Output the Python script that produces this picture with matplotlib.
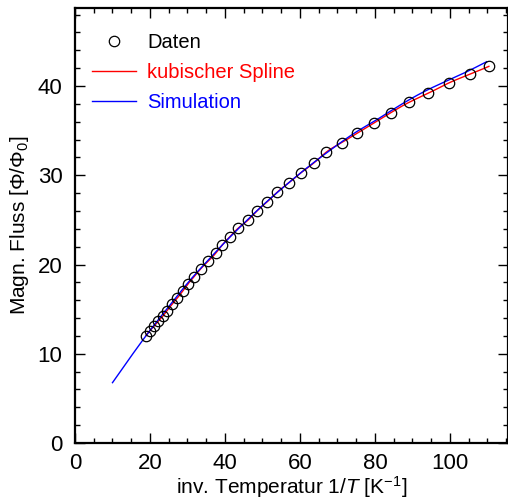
import numpy as np
import matplotlib
matplotlib.use("Agg")
import matplotlib.pyplot as plt
from matplotlib.ticker import MultipleLocator

plt.rcParams['font.family'] = ['Liberation Sans', 'DejaVu Sans']
plt.rcParams['mathtext.fontset'] = 'custom'
plt.rcParams['mathtext.rm'] = 'Liberation Sans'
plt.rcParams['mathtext.it'] = 'Liberation Sans:italic'

# measured flux vs inverse temperature
inv_T = [18.9, 20.0, 21.1, 22.2, 23.4, 24.5, 25.9, 27.3, 28.7, 30.1,
         31.8, 33.6, 35.6, 37.6, 39.3, 41.3, 43.5, 46.2, 48.6, 51.3,
         53.9, 57.1, 60.3, 63.8, 66.9, 71.1, 75.3, 79.7, 84.2, 89.1,
         94.2, 99.7, 105.3, 110.4]
flux = [12.02, 12.6, 13.1, 13.65, 14.2, 14.8, 15.55, 16.25, 17.0, 17.8,
        18.65, 19.55, 20.4, 21.3, 22.2, 23.1, 24.06, 24.99, 26.03, 27.04,
        28.09, 29.17, 30.29, 31.41, 32.55, 33.65, 34.73, 35.85, 37.0, 38.17,
        39.18, 40.34, 41.31, 42.2]

# simulated curve
sim_inv_T = [10.0, 14.0, 18.2, 22.0, 26.0, 30.0, 35.0, 40.0, 45.0, 50.0,
             55.0, 60.0, 65.0, 70.0, 75.0, 80.0, 84.2, 89.1, 94.2, 99.7,
             105.0, 109.8]
sim_flux = [6.76, 9.15, 11.6, 13.7, 15.8, 17.9, 20.25, 22.5, 24.6, 26.6,
            28.45, 30.2, 31.85, 33.4, 34.85, 36.1, 37.2, 38.45, 39.6, 40.67,
            41.7, 42.72]


def natural_cubic_spline(x, y, xs):
    x = np.asarray(x, float)
    y = np.asarray(y, float)
    n = len(x)
    h = np.diff(x)
    A = np.zeros((n, n))
    b = np.zeros(n)
    A[0, 0] = A[-1, -1] = 1.0
    for i in range(1, n - 1):
        A[i, i - 1] = h[i - 1]
        A[i, i] = 2 * (h[i - 1] + h[i])
        A[i, i + 1] = h[i]
        b[i] = 3 * ((y[i + 1] - y[i]) / h[i] - (y[i] - y[i - 1]) / h[i - 1])
    c = np.linalg.solve(A, b)
    bb = (y[1:] - y[:-1]) / h - h * (2 * c[:-1] + c[1:]) / 3
    d = (c[1:] - c[:-1]) / (3 * h)
    idx = np.clip(np.searchsorted(x, xs) - 1, 0, n - 2)
    dx = xs - x[idx]
    return y[idx] + bb[idx] * dx + c[idx] * dx**2 + d[idx] * dx**3


xs = np.linspace(inv_T[0], inv_T[-1], 400)
spline = natural_cubic_spline(inv_T, flux, xs)
sim_x = np.linspace(sim_inv_T[0], sim_inv_T[-1], 400)
sim_y = natural_cubic_spline(sim_inv_T, sim_flux, sim_x)

fig = plt.figure(figsize=(5.08, 5.03), dpi=100)
ax = fig.add_axes([75 / 508, 60 / 503, 433 / 508, 435 / 503])

ax.plot(inv_T, flux, 'o', mfc='none', mec='black', ms=7.5, mew=0.9,
        label='Daten', zorder=3)
ax.plot(xs, spline, color='red', lw=1.0, label='kubischer Spline')
ax.plot(sim_x, sim_y, color='blue', lw=1.0, label='Simulation')

ax.set_xlim(0, 115.5)
ax.set_ylim(0, 48.74)
ax.xaxis.set_major_locator(MultipleLocator(20))
ax.xaxis.set_minor_locator(MultipleLocator(5))
ax.yaxis.set_major_locator(MultipleLocator(10))
ax.yaxis.set_minor_locator(MultipleLocator(2))
ax.tick_params(which='both', direction='in', top=True, right=True,
               width=1.0, labelsize=16)
ax.tick_params(which='major', length=7)
ax.tick_params(which='minor', length=3.5)
ax.tick_params(axis='y', which='both', pad=9)
ax.tick_params(axis='x', which='both', pad=7)
for s in ax.spines.values():
    s.set_linewidth(1.6)

ax.set_xlabel(r'inv. Temperatur $\mathit{1/T}$ [K$^{-1}$]', fontsize=15,
              labelpad=0)
ax.set_ylabel(r'Magn. Fluss [Φ/Φ$_0$]', fontsize=15, labelpad=5)

leg = ax.legend(loc='upper left', frameon=False, fontsize=14.5,
                handlelength=2.2, handletextpad=0.55, labelspacing=0.55,
                bbox_to_anchor=(0.02, 0.962), borderaxespad=0)
for text, col in zip(leg.get_texts(), ['black', 'red', 'blue']):
    text.set_color(col)

fig.savefig('out.png', dpi=100)
